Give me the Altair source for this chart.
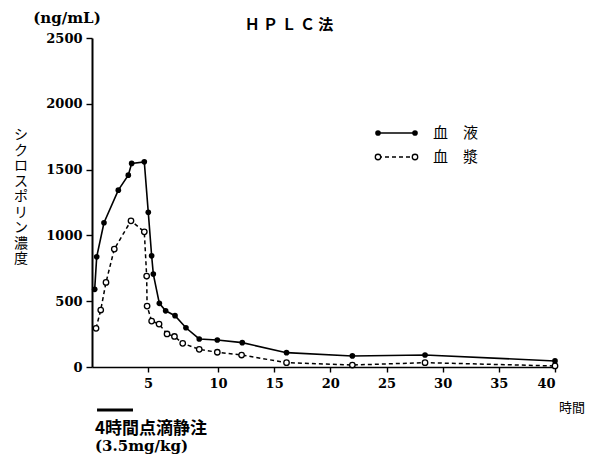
import altair as alt
import pandas as pd

# 血液 (whole blood) – filled circles, solid line
blood_t = [0.24, 0.42, 1.07, 2.35, 3.24, 3.54, 4.67, 5.02, 5.26, 5.38, 5.81, 6.26, 6.93,
           7.71, 8.66, 9.95, 12.16, 16.1, 21.96, 28.43, 40]
blood_c = [590, 837, 1096, 1344, 1458, 1547, 1559, 1175, 845, 706, 484, 427, 390,
           298, 213, 205, 185, 109, 84, 91, 46]

# 血漿 (plasma) – open circles, dashed line
plasma_t = [0.36, 0.78, 1.25, 1.99, 3.48, 4.67, 4.88, 4.92, 5.26, 5.79, 6.36, 6.89,
            7.48, 8.66, 9.95, 12.1, 16.1, 21.96, 28.43, 40]
plasma_c = [294, 433, 643, 896, 1111, 1027, 691, 463, 349, 326, 251, 232,
            180, 134, 112, 91, 33, 15, 33, 8]

x_ticks = [5, 10, 15, 20, 25, 30, 35, 40]
y_ticks = [0, 500, 1000, 1500, 2000, 2500]
infusion = [0.45, 3.66]  # infusion bar under the axis (hours)

W, H = 463, 329
SERIF = "DejaVu Serif"
CJK = "Noto Sans CJK JP"

blood = pd.DataFrame({"t": blood_t, "c": blood_c})
plasma = pd.DataFrame({"t": plasma_t, "c": plasma_c})
inf = pd.DataFrame({"a": [infusion[0]], "b": [infusion[1]]})
one = pd.DataFrame({"k": [0]})

xscale = alt.Scale(domain=[0, 5, 10, 40], range=[0, 56, 126, W], nice=False, zero=False)
yscale = alt.Scale(domain=[0, 2500], nice=False)

axis_common = dict(title=None, labelFont=SERIF, labelFontWeight="bold", labelFontSize=13,
                   labelColor="black", domainColor="black", tickColor="black", grid=False,
                   format="d")
xenc = alt.X("t:Q", scale=xscale,
             axis=alt.Axis(values=x_ticks, tickSize=5, labelPadding=5,
                           domainWidth=1.6, tickWidth=1.4, **axis_common))
yenc = alt.Y("c:Q", scale=yscale,
             axis=alt.Axis(values=y_ticks, tickSize=6, labelPadding=4,
                           domainWidth=2, tickWidth=1.4, **axis_common))

blood_line = alt.Chart(blood).mark_line(color="black", strokeWidth=1.6).encode(x=xenc, y=yenc)
plasma_line = alt.Chart(plasma).mark_line(color="black", strokeWidth=1.5,
                                          strokeDash=[4, 3]).encode(x=xenc, y=yenc)
blood_pts = alt.Chart(blood).mark_point(filled=True, color="black", size=32,
                                        opacity=1).encode(x=xenc, y=yenc)
plasma_pts = alt.Chart(plasma).mark_point(filled=True, fill="white", stroke="black",
                                          strokeWidth=1.3, size=30, opacity=1).encode(x=xenc, y=yenc)

# legend
lg1 = alt.Chart(one).mark_rule(color="black", strokeWidth=1.6).encode(
    x=alt.value(286), x2=alt.value(323), y=alt.value(95))
lg1p = alt.Chart(pd.DataFrame({"px": [286, 323]})).mark_point(
    filled=True, color="black", size=32, opacity=1).encode(
    x=alt.X("px:Q", scale=None), y=alt.value(95))
lg2 = alt.Chart(one).mark_rule(color="black", strokeWidth=1.5, strokeDash=[4, 3]).encode(
    x=alt.value(286), x2=alt.value(323), y=alt.value(119))
lg2p = alt.Chart(pd.DataFrame({"px": [286, 323]})).mark_point(
    filled=True, fill="white", stroke="black", strokeWidth=1.3, size=30, opacity=1).encode(
    x=alt.X("px:Q", scale=None), y=alt.value(119))
lg1t = alt.Chart(one).mark_text(text="血　液", font=CJK, fontSize=15, align="left",
                                baseline="middle", color="black").encode(
    x=alt.value(341), y=alt.value(95))
lg2t = alt.Chart(one).mark_text(text="血　漿", font=CJK, fontSize=15, align="left",
                                baseline="middle", color="black").encode(
    x=alt.value(341), y=alt.value(119))

# texts
title = alt.Chart(one).mark_text(text="Ｈ Ｐ Ｌ Ｃ 法", font=CJK, fontSize=15, fontWeight="bold",
                                 align="center", baseline="middle", color="black").encode(
    x=alt.value(197), y=alt.value(-13))
unit = alt.Chart(one).mark_text(text="(ng/mL)", font=SERIF, fontSize=15, fontWeight="bold",
                                align="center", baseline="middle", color="black").encode(
    x=alt.value(-25), y=alt.value(-20))
ytitle = alt.Chart(one).mark_text(text=list("シクロスポリン濃度"), font=CJK, fontSize=14,
                                  lineHeight=15.5, align="center", baseline="top",
                                  color="black").encode(
    x=alt.value(-71), y=alt.value(90))
xtitle = alt.Chart(one).mark_text(text="時間", font=CJK, fontSize=13, align="right",
                                  baseline="middle", color="black").encode(
    x=alt.value(493), y=alt.value(370))
bar = alt.Chart(inf).mark_rule(color="black", strokeWidth=3).encode(
    x=alt.X("a:Q", scale=xscale), x2="b:Q", y=alt.value(372))
note1 = alt.Chart(one).mark_text(text="4時間点滴静注", font=CJK, fontSize=17, fontWeight="bold",
                                 align="left", baseline="middle", color="black").encode(
    x=alt.value(3), y=alt.value(391))
note2 = alt.Chart(one).mark_text(text="(3.5mg/kg)", font=SERIF, fontSize=15, fontWeight="bold",
                                 align="left", baseline="middle", color="black").encode(
    x=alt.value(3), y=alt.value(408))

chart = alt.layer(
    blood_line, plasma_line, blood_pts, plasma_pts,
    bar, lg1, lg2, lg1p, lg2p, lg1t, lg2t,
    title, unit, ytitle, xtitle, note1, note2
).properties(
    width=W, height=H,
    padding={"left": 84, "top": 30, "right": 31, "bottom": 87},
    autosize=alt.AutoSizeParams(type="none"),
    background="white",
).configure_view(stroke=None)

chart.save("out.html", embed_options={"renderer": "svg", "actions": False})
